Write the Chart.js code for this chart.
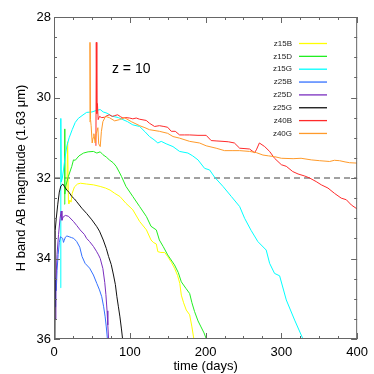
<!DOCTYPE html>
<html>
<head>
<meta charset="utf-8">
<title>H band light curves, z = 10</title>
<script src="https://cdn.jsdelivr.net/npm/chart.js@4.4.1/dist/chart.umd.min.js"></script>
<style>
  html, body { margin: 0; padding: 0; background: #fff; }
  #wrap { width: 374px; height: 374px; position: relative; }
</style>
</head>
<body>
<div id="wrap"><canvas id="lc"></canvas></div>
<script>
const z15B_t = [17, 18, 19, 19.6, 21, 22.5, 24, 27, 31, 35, 43, 52, 61, 68, 74, 80, 87, 95, 104, 113, 122, 128, 131, 135, 137, 141, 146, 150, 155, 159, 163, 166, 168, 171, 174.5, 179, 182, 184.5];
const z15B_m = [32.3, 31.1, 32.55, 32.64, 32.55, 32.6, 32.38, 32.22, 32.15, 32.13, 32.15, 32.17, 32.21, 32.25, 32.3, 32.38, 32.46, 32.63, 32.79, 33.08, 33.29, 33.54, 33.6, 33.64, 33.83, 33.85, 33.85, 33.95, 34.1, 34.24, 34.42, 34.62, 34.91, 35.1, 35.28, 35.4, 35.7, 36.0];

const z15D_t = [13.5, 14, 14.5, 15.5, 19, 23.5, 25.7, 28, 33, 39, 45, 52, 56.5, 61, 64.5, 69, 73, 78, 82, 86, 89, 95, 104, 113, 122, 128, 135, 139, 144, 150, 159, 164, 168, 174, 179, 182, 185.5, 190, 194, 198, 201];
const z15D_m = [32.65, 30.78, 32.4, 32.2, 31.96, 31.71, 31.55, 31.56, 31.45, 31.38, 31.35, 31.34, 31.38, 31.35, 31.42, 31.48, 31.55, 31.62, 31.71, 31.85, 31.96, 32.21, 32.46, 32.71, 32.96, 33.2, 33.29, 33.54, 33.7, 33.91, 34.16, 34.35, 34.58, 34.74, 34.87, 35.1, 35.32, 35.55, 35.7, 35.85, 36.0];

const z15G_t = [8.8, 9.0, 9.6, 11, 12.5, 14.5, 17, 20, 24, 28, 32, 37, 43, 50, 56, 61, 65, 70, 76, 85, 91, 97, 104, 113, 120, 126, 132, 137, 141.5, 148, 157, 165.7, 176.7, 183, 190, 198.7, 205.3, 211.9, 223, 234, 245, 251.5, 260, 269, 280, 284.5, 291, 297.7, 306.5, 317.5, 328.5];
const z15G_m = [34.73, 30.52, 32.1, 32.0, 31.8, 31.5, 31.2, 31.0, 30.8, 30.62, 30.52, 30.45, 30.37, 30.36, 30.32, 30.3, 30.36, 30.39, 30.46, 30.5, 30.55, 30.6, 30.68, 30.72, 30.85, 30.97, 31.05, 31.13, 31.09, 31.15, 31.22, 31.34, 31.38, 31.45, 31.55, 31.76, 31.8, 31.98, 32.21, 32.46, 32.71, 33.0, 33.3, 33.58, 33.79, 34.12, 34.37, 34.43, 35.03, 35.53, 36.0];

const z25B_t = [1.5, 2.2, 3, 4, 5.5, 7, 8.5, 10, 11.5, 12.5, 13.5, 15, 17, 20, 23, 26, 30, 34, 37, 41, 47, 52, 56.5, 60, 63, 65.5, 67.5, 69, 70.5];
const z25B_m = [35.2, 34.5, 34.8, 34.3, 33.9, 33.6, 33.46, 33.48, 33.5, 33.6, 33.55, 33.47, 33.44, 33.46, 33.48, 33.5, 33.58, 33.72, 33.95, 34.12, 34.24, 34.41, 34.62, 34.78, 34.95, 35.2, 35.45, 35.7, 36.0];

const z25D_t = [1.5, 2.5, 4, 6, 8, 9.5, 10.5, 12, 15, 19, 25.7, 30, 34.5, 40, 43, 47, 52, 56, 58.7, 61, 64.5, 67, 68.5, 70, 71, 72];
const z25D_m = [35.5, 34.6, 33.9, 33.4, 33.0, 32.82, 33.05, 32.97, 32.93, 32.95, 33.08, 33.18, 33.29, 33.4, 33.5, 33.58, 33.7, 33.82, 33.91, 34.0, 34.25, 34.6, 34.9, 35.3, 35.65, 36.0];

const z25G_t = [1.2, 1.6, 3, 5, 7, 9, 11.7, 14, 17, 20, 23.5, 27, 30, 36.7, 43, 50, 56.5, 60, 65, 69, 72, 75.5, 78.5, 81, 83, 85, 87, 89, 90.5];
const z25G_m = [36.0, 33.3, 33.0, 32.65, 32.35, 32.2, 32.15, 32.22, 32.3, 32.36, 32.46, 32.52, 32.59, 32.75, 32.88, 33.04, 33.21, 33.32, 33.54, 33.75, 33.95, 34.15, 34.41, 34.65, 34.95, 35.2, 35.45, 35.75, 36.0];

const z40B_t = [55.3, 55.8, 56.5, 57.3, 58.3, 60, 63, 66.7, 70, 73, 77, 80, 84, 88, 91, 95, 99.6, 104, 108.5, 113, 121.7, 126, 132.7, 139, 145, 150, 154.7, 160, 165.7, 172, 178.9, 190, 200.8, 207.4, 215, 223, 230, 238, 245, 252, 258, 264.6, 267, 271, 278, 284.5, 291, 300, 306.5, 315, 322, 330.7, 337.3, 346, 352.7, 361.5, 370, 379, 385.7, 392.3, 400];
const z40B_m = [31.2, 28.63, 30.4, 30.15, 30.55, 30.47, 30.5, 30.49, 30.45, 30.43, 30.47, 30.45, 30.43, 30.48, 30.51, 30.5, 30.51, 30.53, 30.51, 30.54, 30.57, 30.64, 30.72, 30.7, 30.72, 30.74, 30.84, 30.84, 30.93, 30.93, 30.93, 30.94, 30.94, 31.07, 31.08, 31.09, 31.1, 31.13, 31.26, 31.27, 31.28, 31.37, 31.3, 31.13, 31.22, 31.34, 31.51, 31.67, 31.71, 31.84, 31.9, 31.95, 32.0, 32.09, 32.17, 32.25, 32.38, 32.5, 32.54, 32.67, 32.77];

const z40G_t = [47, 47.5, 48.2, 49, 50.4, 51.5, 52.6, 54.3, 55.7, 57.9, 59, 61, 62.5, 64.5, 68, 73, 80, 86.5, 93, 102, 113, 120, 126, 139, 150, 157, 165.7, 179, 192, 200.8, 214, 225, 235, 245, 258, 267, 275.7, 283, 291, 300, 315.5, 326, 339.5, 350.5, 363.7, 370, 376.8, 384, 390, 400];
const z40G_m = [30.6, 28.63, 30.55, 30.7, 31.13, 31.0, 30.9, 31.13, 30.9, 30.75, 31.15, 31.22, 30.85, 30.6, 30.47, 30.5, 30.58, 30.55, 30.5, 30.6, 30.7, 30.75, 30.8, 30.84, 30.89, 30.97, 31.01, 31.09, 31.13, 31.2, 31.26, 31.32, 31.32, 31.32, 31.34, 31.37, 31.43, 31.45, 31.47, 31.51, 31.52, 31.51, 31.55, 31.57, 31.59, 31.56, 31.57, 31.6, 31.62, 31.63];

// axes
const xTicks = [0, 100, 200, 300, 400];
const yTicks = [28, 30, 32, 34, 36];
const limitMag = 32;   // dashed detection limit
const redshiftNote = 'z = 10';

const series = [
    { label: 'z15B', t: z15B_t, m: z15B_m, color: '#ffff00' },
    { label: 'z15D', t: z15D_t, m: z15D_m, color: '#22ee22' },
    { label: 'z15G', t: z15G_t, m: z15G_m, color: '#00ffff' },
    { label: 'z25B', t: z25B_t, m: z25B_m, color: '#3370ff' },
    { label: 'z25D', t: z25D_t, m: z25D_m, color: '#7a2fbf' },
    { label: 'z25G', t: z25G_t, m: z25G_m, color: '#111111' },
    { label: 'z40B', t: z40B_t, m: z40B_m, color: '#ff2a2a' },
    { label: 'z40G', t: z40G_t, m: z40G_m, color: '#ff9a2a' }
];

const FONT = "'Liberation Sans', Arial, Helvetica, sans-serif";
const FRAME = '#666';

const toPoints = (t, m) => t.map((d, i) => ({ x: d, y: m[i] }));

const datasets = series.map((s, i) => ({
    label: s.label,
    data: toPoints(s.t, s.m),
    borderColor: s.color,
    borderWidth: 1,
    pointRadius: 0,
    order: -i          // later curves on top, like the original plot
}));

datasets.push({
    label: '',
    data: [{ x: xTicks[0], y: limitMag }, { x: xTicks[xTicks.length - 1], y: limitMag }],
    borderColor: '#444',
    borderWidth: 1.2,
    borderDash: [6, 4],
    pointRadius: 0,
    order: 100
});

/**
 * Box frame with inward ticks on all four sides, the z label and the legend
 */
const framePlugin = {
    id: 'frame',
    afterDraw(chart) {
        const { ctx, chartArea: a, scales: { x, y } } = chart;
        ctx.save();
        ctx.strokeStyle = FRAME;
        ctx.lineWidth = 1;
        ctx.strokeRect(a.left + 0.5, a.top + 0.5, a.right - a.left - 1, a.bottom - a.top - 1);

        ctx.beginPath();
        for (let v = x.min; v <= x.max; v += 25) {
            const px = Math.round(x.getPixelForValue(v)) + 0.5;
            const len = v % 100 === 0 ? 6 : 3;
            ctx.moveTo(px, a.bottom); ctx.lineTo(px, a.bottom - len);
            ctx.moveTo(px, a.top); ctx.lineTo(px, a.top + len);
        }
        for (let v = y.min; v <= y.max; v += 0.5) {
            const py = Math.round(y.getPixelForValue(v)) + 0.5;
            const len = v % 2 === 0 ? 6 : 3;
            ctx.moveTo(a.left, py); ctx.lineTo(a.left + len, py);
            ctx.moveTo(a.right, py); ctx.lineTo(a.right - len, py);
        }
        ctx.stroke();

        // redshift note
        ctx.fillStyle = '#000';
        ctx.font = '14px ' + FONT;
        ctx.textAlign = 'left';
        ctx.textBaseline = 'middle';
        ctx.fillText(redshiftNote, x.getPixelForValue(76.5), y.getPixelForValue(29.3));

        // legend: label on the left, line sample on the right
        ctx.font = '8px ' + FONT;
        ctx.textAlign = 'right';
        series.forEach((s, i) => {
            const ly = 43.5 + i * 12.85;
            ctx.fillStyle = '#222';
            ctx.fillText(s.label, 292, ly);
            ctx.strokeStyle = s.color;
            ctx.lineWidth = 1.3;
            ctx.beginPath();
            ctx.moveTo(299, ly);
            ctx.lineTo(327, ly);
            ctx.stroke();
        });
        ctx.restore();
    }
};

Chart.defaults.color = '#000';
Chart.defaults.font.family = FONT;

new Chart(document.getElementById('lc'), {
    type: 'line',
    data: { datasets },
    options: {
        responsive: true,
        maintainAspectRatio: false,
        devicePixelRatio: 1,
        animation: false,
        layout: { padding: { top: 17, right: 16, bottom: 0, left: 0 } },
        plugins: {
            legend: { display: false },
            tooltip: { enabled: false }
        },
        scales: {
            x: {
                type: 'linear',
                min: xTicks[0],
                max: xTicks[xTicks.length - 1],
                grid: { display: false, drawTicks: false },
                border: { display: false },
                ticks: { stepSize: 100, padding: 6, font: { size: 13 }, maxRotation: 0 },
                title: { display: true, text: 'time (days)', font: { size: 13 }, padding: 0 },
                afterFit(scale) { scale.height = 35; }
            },
            y: {
                type: 'linear',
                reverse: true,
                min: yTicks[0],
                max: yTicks[yTicks.length - 1],
                grid: { display: false, drawTicks: false },
                border: { display: false },
                ticks: { stepSize: 2, padding: 3, font: { size: 13 } },
                title: { display: true, text: 'H band AB magnitude (1.63 μm)', font: { size: 13 }, padding: { top: 14, bottom: 0 } },
                afterFit(scale) { scale.width = 54; }
            }
        }
    },
    plugins: [framePlugin]
});
</script>
</body>
</html>
